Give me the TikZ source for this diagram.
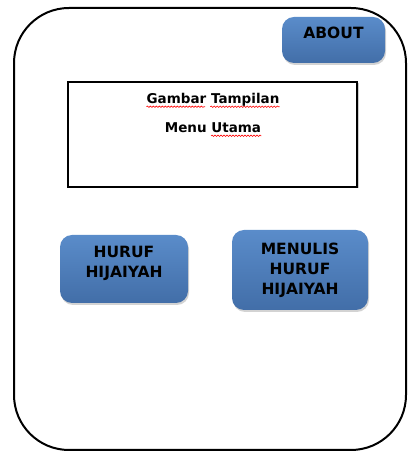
\documentclass[tikz,border=0pt]{standalone}
\usepackage{fontspec}
\setmainfont{DejaVu Sans}
\usetikzlibrary{calc,shadows,decorations.pathmorphing}
\definecolor{btntop}{RGB}{90,140,202}
\definecolor{btnbot}{RGB}{66,110,168}

\begin{document}
\begin{tikzpicture}[x=1pt,y=1pt,
  btn/.style={rounded corners=12pt,top color=btntop,bottom color=btnbot,
    drop shadow={shadow xshift=1pt,shadow yshift=-2pt,opacity=0.35}},
  btntext/.style={font=\fontsize{15.5}{20}\selectfont\bfseries,align=center,inner sep=0pt},
  menutext/.style={font=\fontsize{13.5}{15}\selectfont\bfseries,inner sep=0pt},
  spell/.style={red,line width=0.6pt,decorate,
    decoration={snake,amplitude=0.7pt,segment length=3pt}}]
  \useasboundingbox (0,0) rectangle (408,452);

  %outer frame
  \draw[line width=2pt,rounded corners=55pt] (14,2) rectangle (406,444);

  %menu picture
  \node[draw,line width=1.8pt,fill=white,minimum width=289pt,minimum height=105pt,
    drop shadow={shadow xshift=1.5pt,shadow yshift=-1.5pt,opacity=0.4}] (menu) at (212.5,317.5) {};
  \node[menutext] (gambar) at (213,352) {Gambar Tampilan};
  \node[menutext] (utama) at (213,324) {Menu Utama};
  \draw[spell] ($(gambar.base west)+(0,-3pt)$) -- ($(gambar.base west)!0.44!(gambar.base east)+(0,-3pt)$);
  \draw[spell] ($(gambar.base west)!0.48!(gambar.base east)+(0,-3pt)$) -- ($(gambar.base east)+(0,-3pt)$);
  \draw[spell] ($(utama.base west)!0.48!(utama.base east)+(0,-3pt)$) -- ($(utama.base east)+(0,-3pt)$);

  %buttons
  \node[btn,minimum width=103pt,minimum height=46pt] (about) at (333.5,412) {};
  \node[btntext] (about-txt) at ([yshift=7pt]about.center) {ABOUT};
  \node[btn,minimum width=128pt,minimum height=68pt] (huruf) at (124,183) {};
  \node[btntext] (huruf-txt) at ([yshift=6pt]huruf.center) {HURUF\\HIJAIYAH};
  \node[btn,minimum width=136pt,minimum height=80pt] (menulis) at (300,182) {};
  \node[btntext] (menulis-txt) at (menulis.center) {MENULIS\\HURUF\\HIJAIYAH};
\end{tikzpicture}
\end{document}
